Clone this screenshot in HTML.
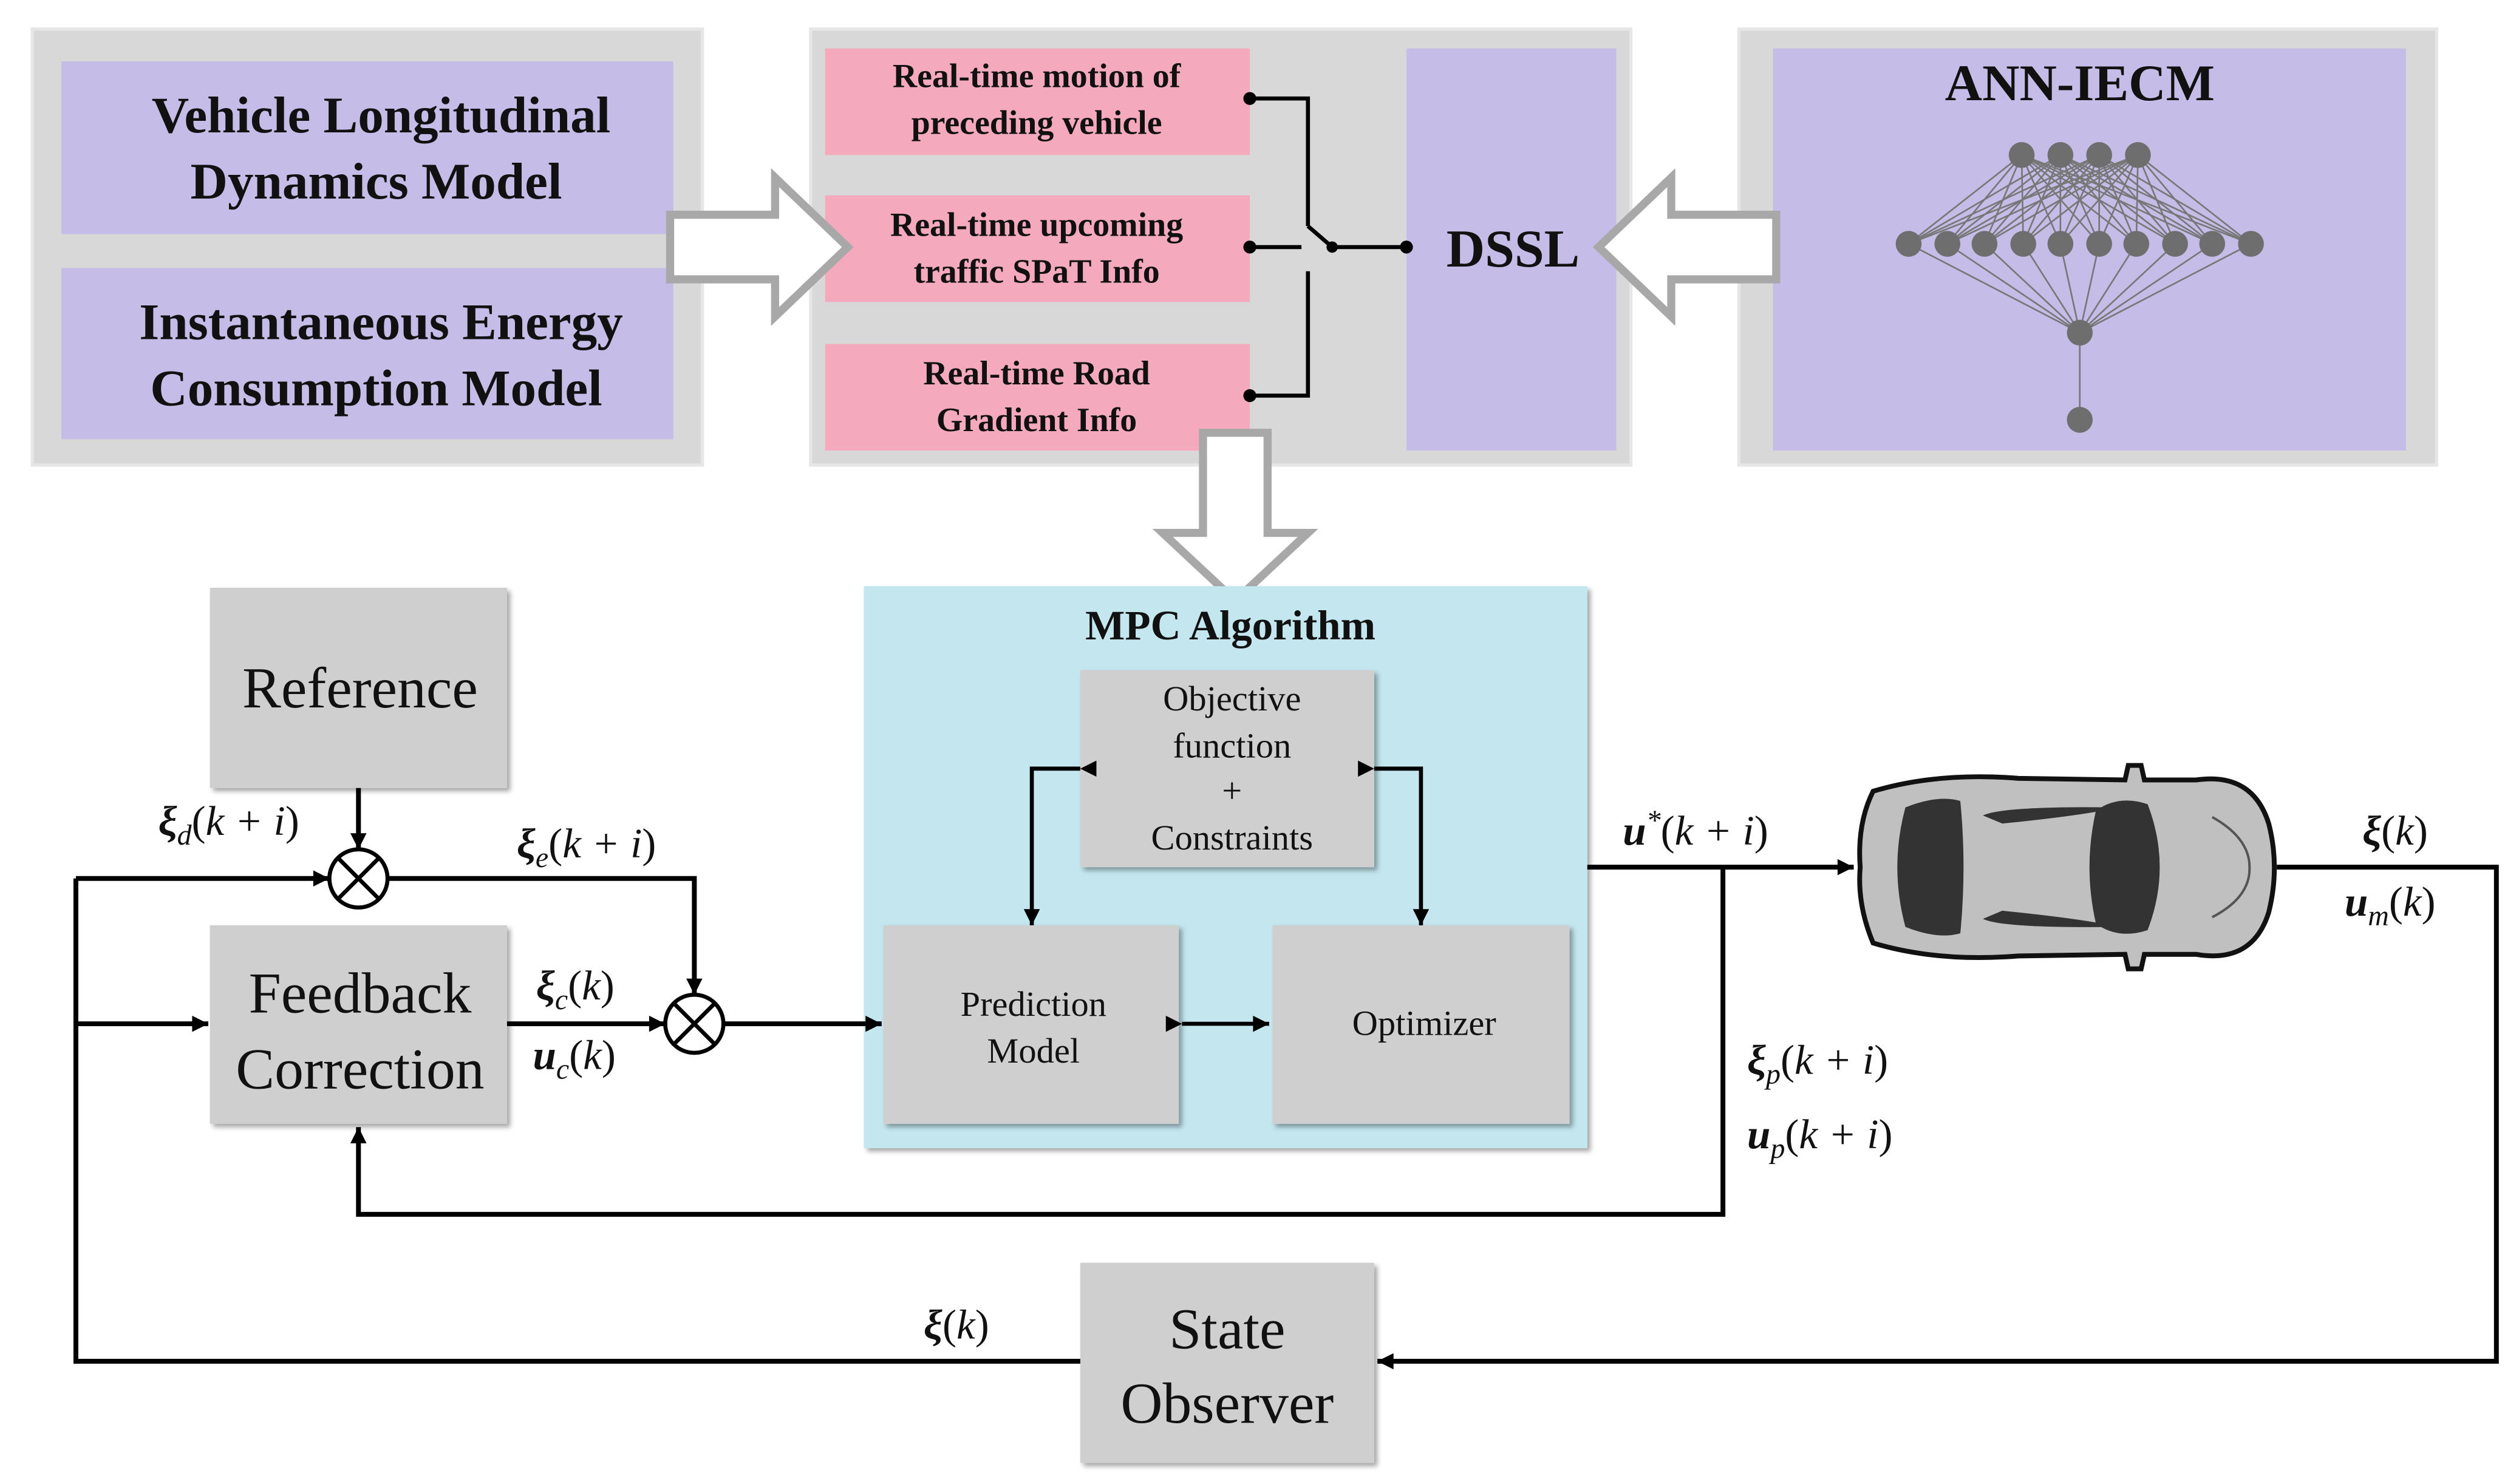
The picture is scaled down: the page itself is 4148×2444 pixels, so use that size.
<!DOCTYPE html>
<html><head><meta charset="utf-8"><style>
html,body{margin:0;padding:0;background:#fff;}
svg{display:block;}
text{font-family:"Liberation Serif","DejaVu Serif",serif;}
</style></head><body>
<svg width="4148" height="2444" viewBox="0 0 1560 919" preserveAspectRatio="none" xmlns="http://www.w3.org/2000/svg">
<defs>
<marker id="ar" viewBox="0 0 10 10" refX="10" refY="5" markerWidth="15" markerHeight="10" orient="auto" markerUnits="userSpaceOnUse"><path d="M0,0 L10,5 L0,10 z" fill="#000"/></marker>
<filter id="sh" x="-10%" y="-10%" width="130%" height="130%"><feDropShadow dx="2" dy="2" stdDeviation="1.5" flood-color="#000" flood-opacity="0.35"/></filter>
</defs>
<rect width="1560" height="919" fill="#fff"/>

<!-- Top left panel -->
<rect x="20" y="18" width="415" height="270" fill="#d8d8d8" stroke="#e6e6e6" stroke-width="2"/>
<rect x="38" y="38" width="379" height="107" fill="#c5bde8"/>
<rect x="38" y="166" width="379" height="106" fill="#c5bde8"/>
<g font-weight="bold" font-size="32" text-anchor="middle" fill="#111">
<text x="236" y="82">Vehicle Longitudinal</text>
<text x="233" y="123">Dynamics Model</text>
<text x="236" y="210">Instantaneous Energy</text>
<text x="233" y="251">Consumption Model</text>
</g>

<!-- Middle panel -->
<rect x="502" y="18" width="508" height="270" fill="#d8d8d8" stroke="#e6e6e6" stroke-width="2"/>
<rect x="511" y="30" width="263" height="66" fill="#f4a9bd"/>
<rect x="511" y="121" width="263" height="66" fill="#f4a9bd"/>
<rect x="511" y="213" width="263" height="66" fill="#f4a9bd"/>
<rect x="871" y="30" width="130" height="249" fill="#c5bde8"/>
<g font-weight="bold" font-size="21" text-anchor="middle" fill="#111">
<text x="642" y="54">Real-time motion of</text>
<text x="642" y="83">preceding vehicle</text>
<text x="642" y="146">Real-time upcoming</text>
<text x="642" y="175">traffic SPaT Info</text>
<text x="642" y="238">Real-time Road</text>
<text x="642" y="267">Gradient Info</text>
</g>
<text x="937" y="165" font-weight="bold" font-size="33" text-anchor="middle" fill="#111">DSSL</text>
<g stroke="#000" stroke-width="2.5" fill="none">
<polyline points="774,61 810,61 810,140"/>
<polyline points="774,245 810,245 810,168"/>
<line x1="774" y1="153" x2="806" y2="153"/>
<line x1="810" y1="140" x2="825" y2="153"/>
<line x1="825" y1="153" x2="871" y2="153"/>
</g>
<g fill="#000"><circle cx="774" cy="61" r="4"/><circle cx="774" cy="153" r="4"/><circle cx="774" cy="245" r="4"/><circle cx="825" cy="153" r="3.5"/><circle cx="871" cy="153" r="4"/></g>

<!-- Right panel -->
<rect x="1077" y="18" width="432" height="270" fill="#d8d8d8" stroke="#e6e6e6" stroke-width="2"/>
<rect x="1098" y="30" width="392" height="249" fill="#c5bde8"/>
<text x="1288" y="62" font-weight="bold" font-size="32" text-anchor="middle" fill="#111">ANN-IECM</text>
<g stroke="#777" stroke-width="1">
<path d="M1252,96L1182,151M1252,96L1206,151M1252,96L1229,151M1252,96L1253,151M1252,96L1276,151M1252,96L1300,151M1252,96L1323,151M1252,96L1347,151M1252,96L1370,151M1252,96L1394,151
M1276,96L1182,151M1276,96L1206,151M1276,96L1229,151M1276,96L1253,151M1276,96L1276,151M1276,96L1300,151M1276,96L1323,151M1276,96L1347,151M1276,96L1370,151M1276,96L1394,151
M1300,96L1182,151M1300,96L1206,151M1300,96L1229,151M1300,96L1253,151M1300,96L1276,151M1300,96L1300,151M1300,96L1323,151M1300,96L1347,151M1300,96L1370,151M1300,96L1394,151
M1324,96L1182,151M1324,96L1206,151M1324,96L1229,151M1324,96L1253,151M1324,96L1276,151M1324,96L1300,151M1324,96L1323,151M1324,96L1347,151M1324,96L1370,151M1324,96L1394,151
M1182,151L1288,206M1206,151L1288,206M1229,151L1288,206M1253,151L1288,206M1276,151L1288,206M1300,151L1288,206M1323,151L1288,206M1347,151L1288,206M1370,151L1288,206M1394,151L1288,206M1288,206L1288,260"/>
</g>
<g fill="#6e6e6e">
<circle cx="1252" cy="96" r="8"/><circle cx="1276" cy="96" r="8"/><circle cx="1300" cy="96" r="8"/><circle cx="1324" cy="96" r="8"/>
<circle cx="1182" cy="151" r="8"/><circle cx="1206" cy="151" r="8"/><circle cx="1229" cy="151" r="8"/><circle cx="1253" cy="151" r="8"/><circle cx="1276" cy="151" r="8"/><circle cx="1300" cy="151" r="8"/><circle cx="1323" cy="151" r="8"/><circle cx="1347" cy="151" r="8"/><circle cx="1370" cy="151" r="8"/><circle cx="1394" cy="151" r="8"/>
<circle cx="1288" cy="206" r="8"/><circle cx="1288" cy="260" r="8"/>
</g>

<!-- Hollow arrows -->
<g fill="#fff" stroke="#a8a8a8" stroke-width="5" stroke-linejoin="miter">
<polygon points="415,133 480,133 480,110 525,153 480,196 480,173 415,173"/>
<polygon points="1100,133 1035,133 1035,110 990,153 1035,196 1035,173 1100,173"/>
<polygon points="745,268 785,268 785,330 810,330 765,372 720,330 745,330"/>
</g>

<!-- MPC box -->
<rect x="535" y="363" width="448" height="348" fill="#c3e6ef" filter="url(#sh)"/>
<text x="762" y="396" font-weight="bold" font-size="26" text-anchor="middle" fill="#111">MPC Algorithm</text>
<g fill="#cfcfcf" filter="url(#sh)">
<rect x="669" y="415" width="182" height="122"/>
<rect x="547" y="573" width="183" height="123"/>
<rect x="788" y="573" width="184" height="123"/>
<rect x="130" y="364" width="184" height="124"/>
<rect x="130" y="573" width="184" height="123"/>
<rect x="669" y="782" width="182" height="124"/>
</g>
<g font-size="22" text-anchor="middle" fill="#111">
<text x="763" y="440">Objective</text>
<text x="763" y="469">function</text>
<text x="763" y="497">+</text>
<text x="763" y="526">Constraints</text>
<text x="640" y="629">Prediction</text>
<text x="640" y="658">Model</text>
<text x="882" y="641">Optimizer</text>
</g>
<g font-size="36" text-anchor="middle" fill="#111">
<text x="223" y="438">Reference</text>
<text x="223" y="627">Feedback</text>
<text x="223" y="674">Correction</text>
<text x="760" y="835">State</text>
<text x="760" y="881">Observer</text>
</g>

<!-- MPC internal arrows -->
<g stroke="#000" stroke-width="2.5" fill="none">
<polyline points="669,476 639,476 639,573" marker-start="url(#ar)" marker-end="url(#ar)"/>
<polyline points="851,476 880,476 880,573" marker-start="url(#ar)" marker-end="url(#ar)"/>
<line x1="732" y1="634" x2="786" y2="634" marker-start="url(#ar)" marker-end="url(#ar)"/>
</g>

<!-- Main loop lines -->
<g stroke="#000" stroke-width="3" fill="none">
<line x1="222" y1="488" x2="222" y2="526" marker-end="url(#ar)"/>
<line x1="47" y1="544" x2="204" y2="544" marker-end="url(#ar)"/>
<polyline points="240,544 430,544 430,616" marker-end="url(#ar)"/>
<line x1="314" y1="634" x2="412" y2="634" marker-end="url(#ar)"/>
<line x1="448" y1="634" x2="546" y2="634" marker-end="url(#ar)"/>
<line x1="47" y1="634" x2="129" y2="634" marker-end="url(#ar)"/>
<polyline points="983,537 1148,537" marker-end="url(#ar)"/>
<polyline points="1067,537 1067,752 222,752 222,698" marker-end="url(#ar)"/>
<polyline points="1410,537 1546,537 1546,843 853,843" marker-end="url(#ar)"/>
<polyline points="669,843 47,843 47,544"/>
</g>
<g stroke="#000" stroke-width="2.5" fill="#fff">
<circle cx="222" cy="544" r="18"/>
<circle cx="430" cy="634" r="18"/>
</g>
<g stroke="#000" stroke-width="2.5">
<line x1="209" y1="531" x2="235" y2="557"/><line x1="235" y1="531" x2="209" y2="557"/>
<line x1="417" y1="621" x2="443" y2="647"/><line x1="443" y1="621" x2="417" y2="647"/>
</g>

<!-- Math labels -->
<g font-size="26" fill="#111" font-style="italic">
<text x="98" y="517"><tspan font-weight="bold">ξ</tspan><tspan font-size="18" dy="6">d</tspan><tspan dy="-6" font-style="normal">(</tspan>k + i<tspan font-style="normal">)</tspan></text>
<text x="320" y="531"><tspan font-weight="bold">ξ</tspan><tspan font-size="18" dy="6">e</tspan><tspan dy="-6" font-style="normal">(</tspan>k + i<tspan font-style="normal">)</tspan></text>
<text x="332" y="619"><tspan font-weight="bold">ξ</tspan><tspan font-size="18" dy="6">c</tspan><tspan dy="-6" font-style="normal">(</tspan>k<tspan font-style="normal">)</tspan></text>
<text x="330" y="662"><tspan font-weight="bold">u</tspan><tspan font-size="18" dy="6">c</tspan><tspan dy="-6" font-style="normal">(</tspan>k<tspan font-style="normal">)</tspan></text>
<text x="1005" y="523"><tspan font-weight="bold">u</tspan><tspan font-size="18" dy="-9">*</tspan><tspan dy="9" font-style="normal">(</tspan>k + i<tspan font-style="normal">)</tspan></text>
<text x="1463" y="523"><tspan font-weight="bold">ξ</tspan><tspan font-style="normal">(</tspan>k<tspan font-style="normal">)</tspan></text>
<text x="1452" y="567"><tspan font-weight="bold">u</tspan><tspan font-size="18" dy="6">m</tspan><tspan dy="-6" font-style="normal">(</tspan>k<tspan font-style="normal">)</tspan></text>
<text x="1082" y="665"><tspan font-weight="bold">ξ</tspan><tspan font-size="18" dy="6">p</tspan><tspan dy="-6" font-style="normal">(</tspan>k + i<tspan font-style="normal">)</tspan></text>
<text x="1082" y="711"><tspan font-weight="bold">u</tspan><tspan font-size="18" dy="6">p</tspan><tspan dy="-6" font-style="normal">(</tspan>k + i<tspan font-style="normal">)</tspan></text>
<text x="572" y="829"><tspan font-weight="bold">ξ</tspan><tspan font-style="normal">(</tspan>k<tspan font-style="normal">)</tspan></text>
</g>

<!-- Car -->
<g>
<path d="M1160,490 Q1200,478 1250,482 L1316,483 L1318,474 L1326,474 L1328,483 L1360,483 Q1395,478 1405,510 Q1412,537 1405,565 Q1395,597 1360,591 L1328,591 L1326,600 L1318,600 L1316,591 L1250,592 Q1200,596 1160,584 Q1150,560 1152,537 Q1150,510 1160,490 Z" fill="#c0c0c0" stroke="#111" stroke-width="3"/>
<path d="M1180,500 Q1200,492 1214,496 Q1218,537 1214,578 Q1200,582 1180,574 Q1170,537 1180,500 Z" fill="#333"/>
<path d="M1298,502 Q1312,492 1330,498 Q1345,537 1330,576 Q1312,582 1298,572 Q1290,537 1298,502 Z" fill="#333"/>
<path d="M1228,505 Q1240,499 1312,500 Q1290,505 1240,510 Z" fill="#333"/>
<path d="M1228,569 Q1240,575 1312,574 Q1290,569 1240,564 Z" fill="#333"/>
<path d="M1370,506 Q1395,520 1393,540 M1370,568 Q1395,555 1393,535" stroke="#555" stroke-width="1.5" fill="none"/>
</g>
</svg>
</body></html>
